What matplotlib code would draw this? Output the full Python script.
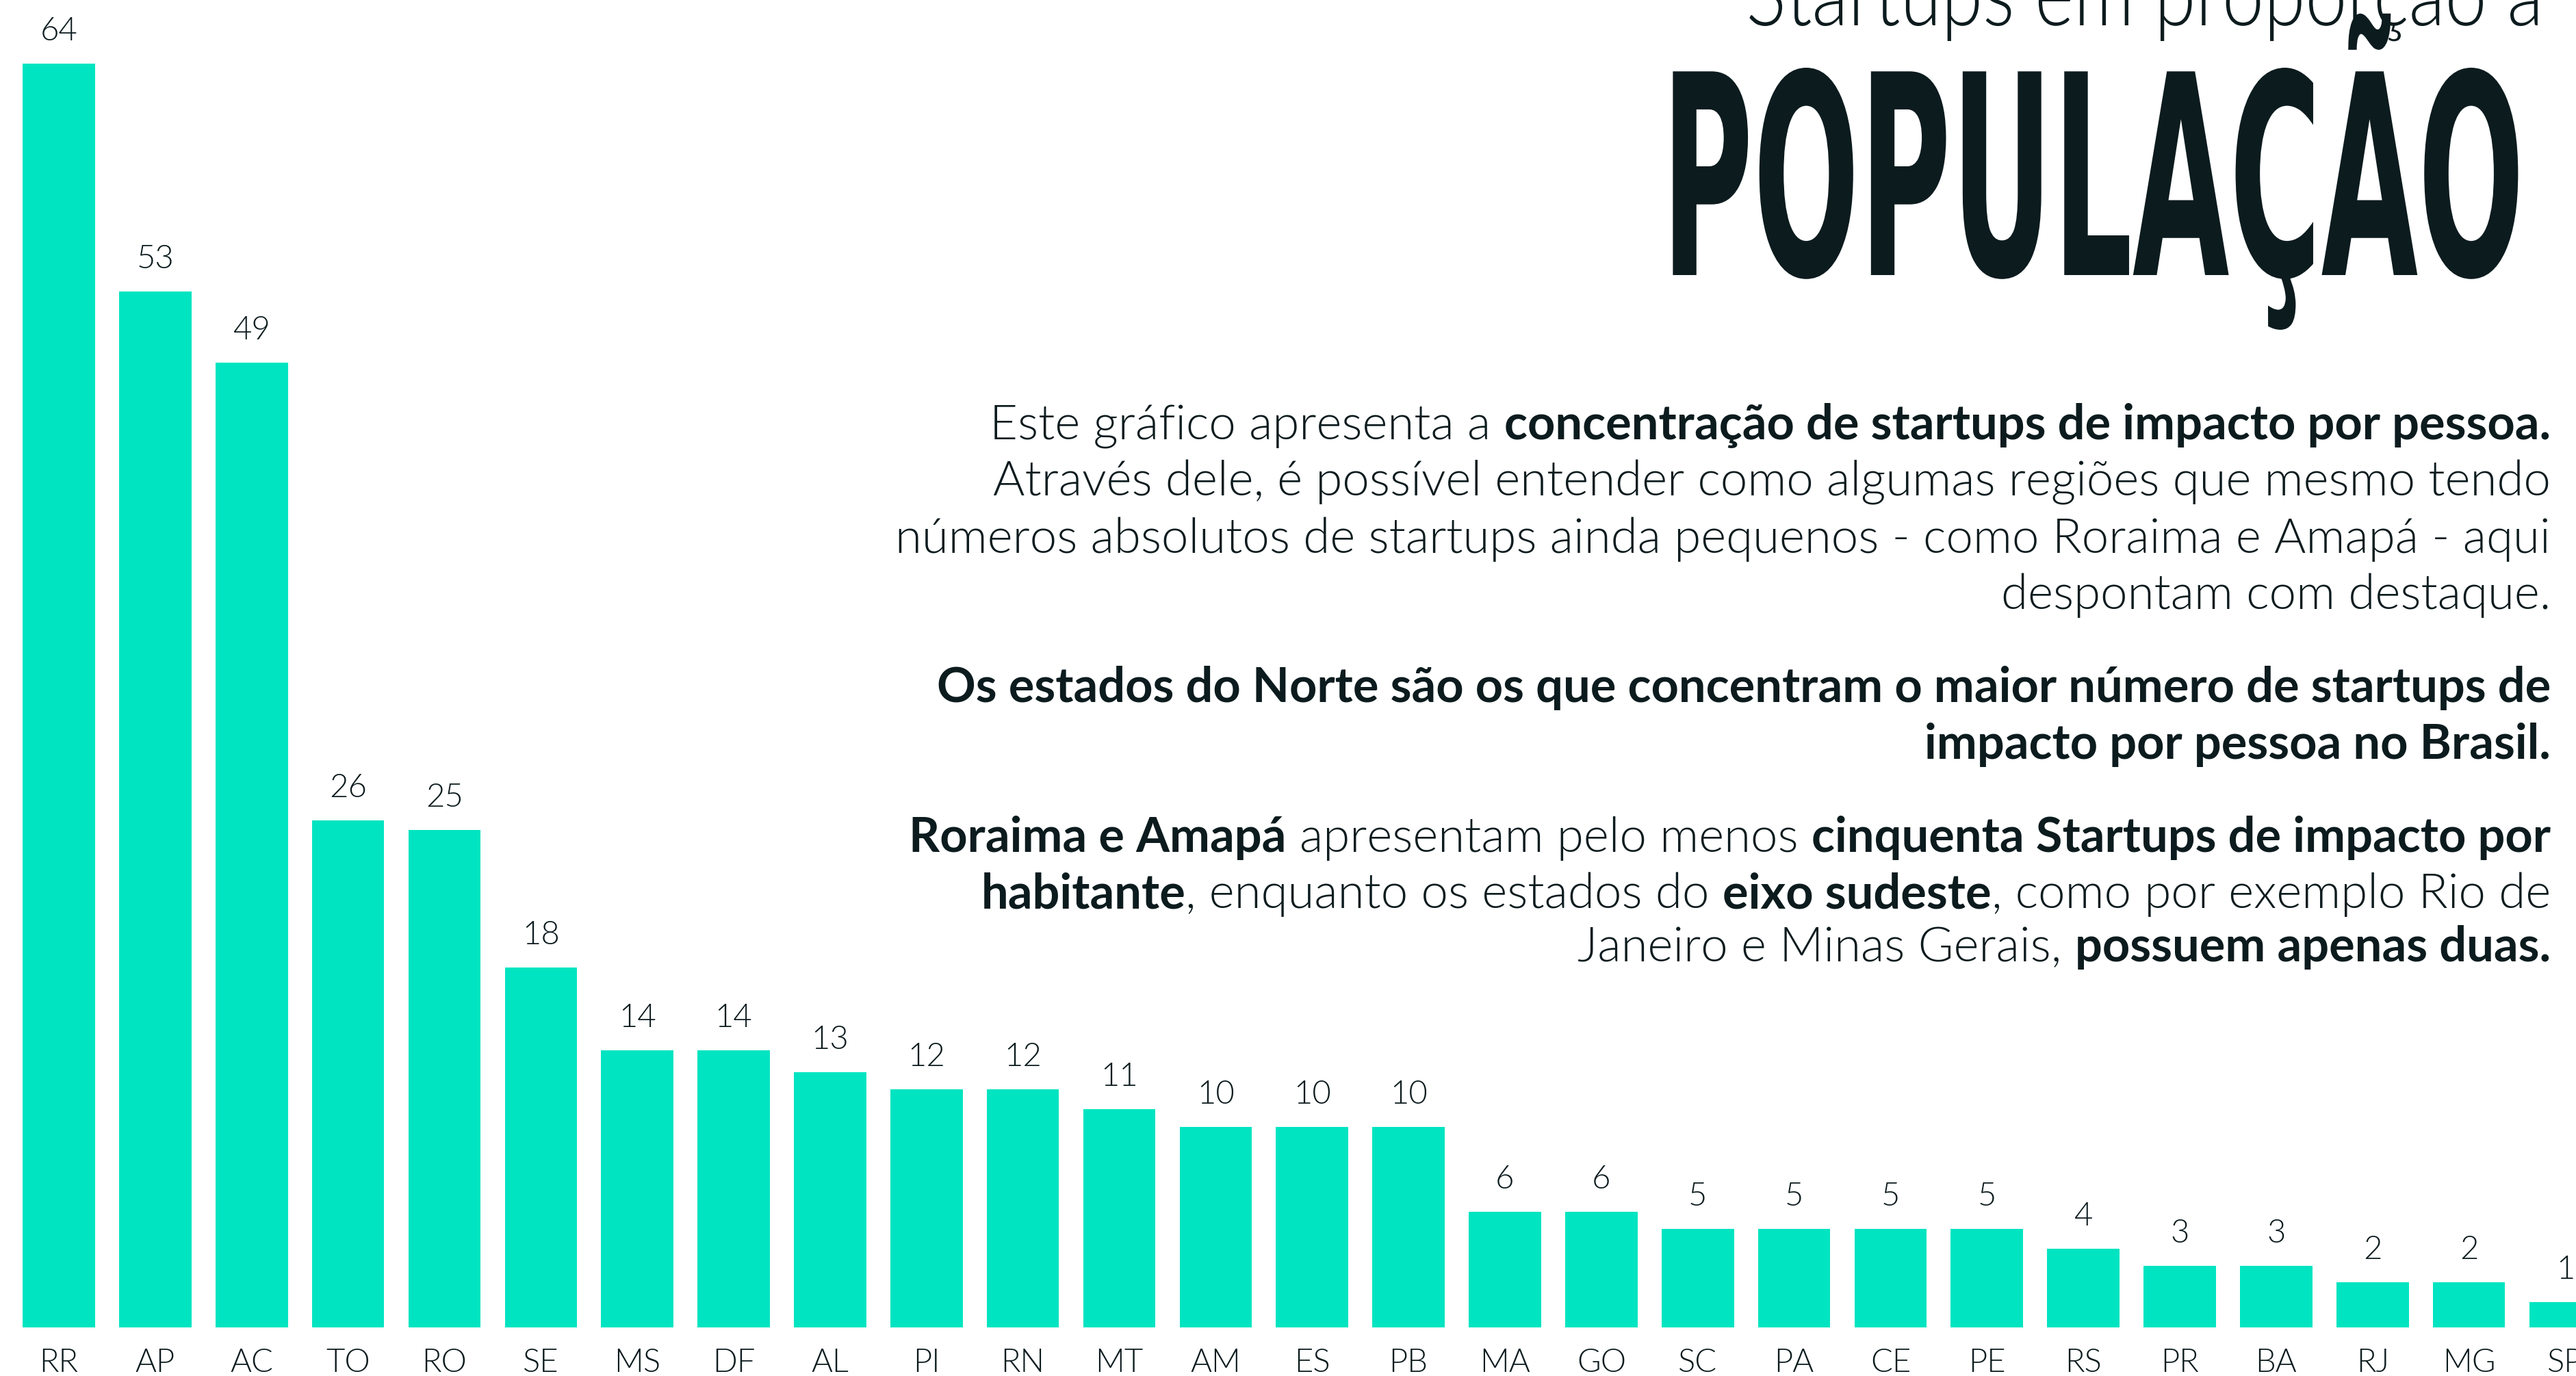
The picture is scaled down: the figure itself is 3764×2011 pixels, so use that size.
import numpy as np
import matplotlib
matplotlib.use("Agg")
import matplotlib.pyplot as plt
from matplotlib.patheffects import AbstractPathEffect
from matplotlib.transforms import Affine2D

# dados (startups de impacto por habitante)
estados = ["RR", "AP", "AC", "TO", "RO", "SE", "MS", "DF", "AL", "PI", "RN", "MT", "AM", "ES",
           "PB", "MA", "GO", "SC", "PA", "CE", "PE", "RS", "PR", "BA", "RJ", "MG", "SP"]
valores = [64.3, 52.7, 49.1, 25.8, 25.3, 18.3, 14.1, 14.1, 13.0, 12.1, 12.1, 11.1, 10.2, 10.2,
           10.2, 5.9, 5.9, 5.0, 5.0, 5.0, 5.0, 4.0, 3.15, 3.15, 2.3, 2.3, 1.3]
rotulos = [64, 53, 49, 26, 25, 18, 14, 14, 13, 12, 12, 11, 10, 10,
           10, 6, 6, 5, 5, 5, 5, 4, 3, 3, 2, 2, 1]

titulo_pequeno = "Startups em proporção a"
titulo_grande = "POPULAÇÃO"

# (texto, negrito) por linha
paragrafos = [
    [[("Este gráfico apresenta a ", False), ("concentração de startups de impacto por pessoa.", True)],
     [("Através dele, é possível entender como algumas regiões que mesmo tendo", False)],
     [("números absolutos de startups ainda pequenos - como Roraima e Amapá - aqui", False)],
     [("despontam com destaque.", False)]],
    [[("Os estados do Norte são os que concentram o maior número de startups de", True)],
     [("impacto por pessoa no Brasil.", True)]],
    [[("Roraima e Amapá", True), (" apresentam pelo menos ", False), ("cinquenta Startups de impacto por", True)],
     [("habitante", True), (", enquanto os estados do ", False), ("eixo sudeste", True), (", como por exemplo Rio de", False)],
     [("Janeiro e Minas Gerais, ", False), ("possuem apenas duas.", True)]],
]
linhas_y = [[642, 724, 808, 890], [1026, 1109], [1245, 1327, 1405]]

TEAL = "#00E4C1"
ESCURO = "#0C1B1E"
FAM = ["Lato", "DejaVu Sans"]
W, H = 3764, 2011


class Esticar(AbstractPathEffect):
    """escala o texto na horizontal, preso pela borda direita"""
    def __init__(self, sx=1.0):
        super().__init__()
        self.sx = sx

    def draw_path(self, renderer, gc, tpath, affine, rgbFace=None):
        x1 = tpath.get_extents().x1
        t = Affine2D().translate(-x1, 0).scale(self.sx, 1.0).translate(x1, 0)
        renderer.draw_path(gc, tpath, t + affine, rgbFace)


fig = plt.figure(figsize=(W / 100, H / 100), dpi=100)
ax = fig.add_axes([0, 71 / H, 1, 1940 / H])

x = np.arange(len(estados))
ax.bar(x, valores, width=0.75, color=TEAL)
ax.set_xlim(-0.6105, 26.11)
ax.set_ylim(0, 67.55)

for i, (v, r) in enumerate(zip(valores, rotulos)):
    ax.annotate(str(r), (i, v), xytext=(0, 24.5), textcoords="offset points",
                ha="center", va="baseline", fontsize=34, color=ESCURO,
                family=FAM, fontweight=300)

ax.set_xticks(x, estados)
ax.set_yticks([])
ax.tick_params(axis="x", length=0, pad=22, labelsize=34, labelcolor=ESCURO)
for lbl in ax.get_xticklabels():
    lbl.set_family(FAM)
    lbl.set_fontweight(300)
for s in ax.spines.values():
    s.set_visible(False)

fig.canvas.draw()
renderer = fig.canvas.get_renderer()


def largura(s, size, weight):
    a = fig.text(0, 0, "|" + s + "|", fontsize=size, fontweight=weight, family=FAM)
    b = fig.text(0, 0, "||", fontsize=size, fontweight=weight, family=FAM)
    w = a.get_window_extent(renderer).width - b.get_window_extent(renderer).width
    a.remove()
    b.remove()
    return w


# tamanho do corpo ajustado pela largura da linha mais longa
w3 = largura(paragrafos[0][2][0][0], 50, 300)
corpo = 50 * 2426 / w3
corpo_negrito = corpo * 0.992  # o negrito do Lato sai um pouco mais largo

DIREITA = 3727
for par, ys in zip(paragrafos, linhas_y):
    for linha, y in zip(par, ys):
        cx = DIREITA
        for texto, negrito in reversed(linha):
            peso = 700 if negrito else 300
            tam = corpo_negrito if negrito else corpo
            esp = largura(" ", tam, peso)
            if texto.endswith(" "):
                cx -= esp
            s = texto.strip()
            fig.text(cx / W, 1 - y / H, s, ha="right", va="baseline", fontsize=tam,
                     fontweight=peso, family=FAM, color=ESCURO)
            cx -= largura(s, tam, peso)
            if texto.startswith(" "):
                cx -= esp

# títulos
t1 = fig.text(3717 / W, 1 - 37 / H, titulo_pequeno, ha="right", va="baseline",
              fontsize=94, fontweight=300, family=FAM, color=ESCURO)
t2 = fig.text(3700 / W, 1 - 402 / H, titulo_grande, ha="right", va="baseline",
              fontsize=294, fontweight="bold", family=["DejaVu Sans"], color=ESCURO)
fig.canvas.draw()
sx1 = (3717 - 2553) / t1.get_window_extent(renderer).width
sx2 = (3700 - 2439) / t2.get_window_extent(renderer).width
t1.set_path_effects([Esticar(sx1)])
t2.set_path_effects([Esticar(sx2)])

fig.savefig("out.png", dpi=100, facecolor="white")
